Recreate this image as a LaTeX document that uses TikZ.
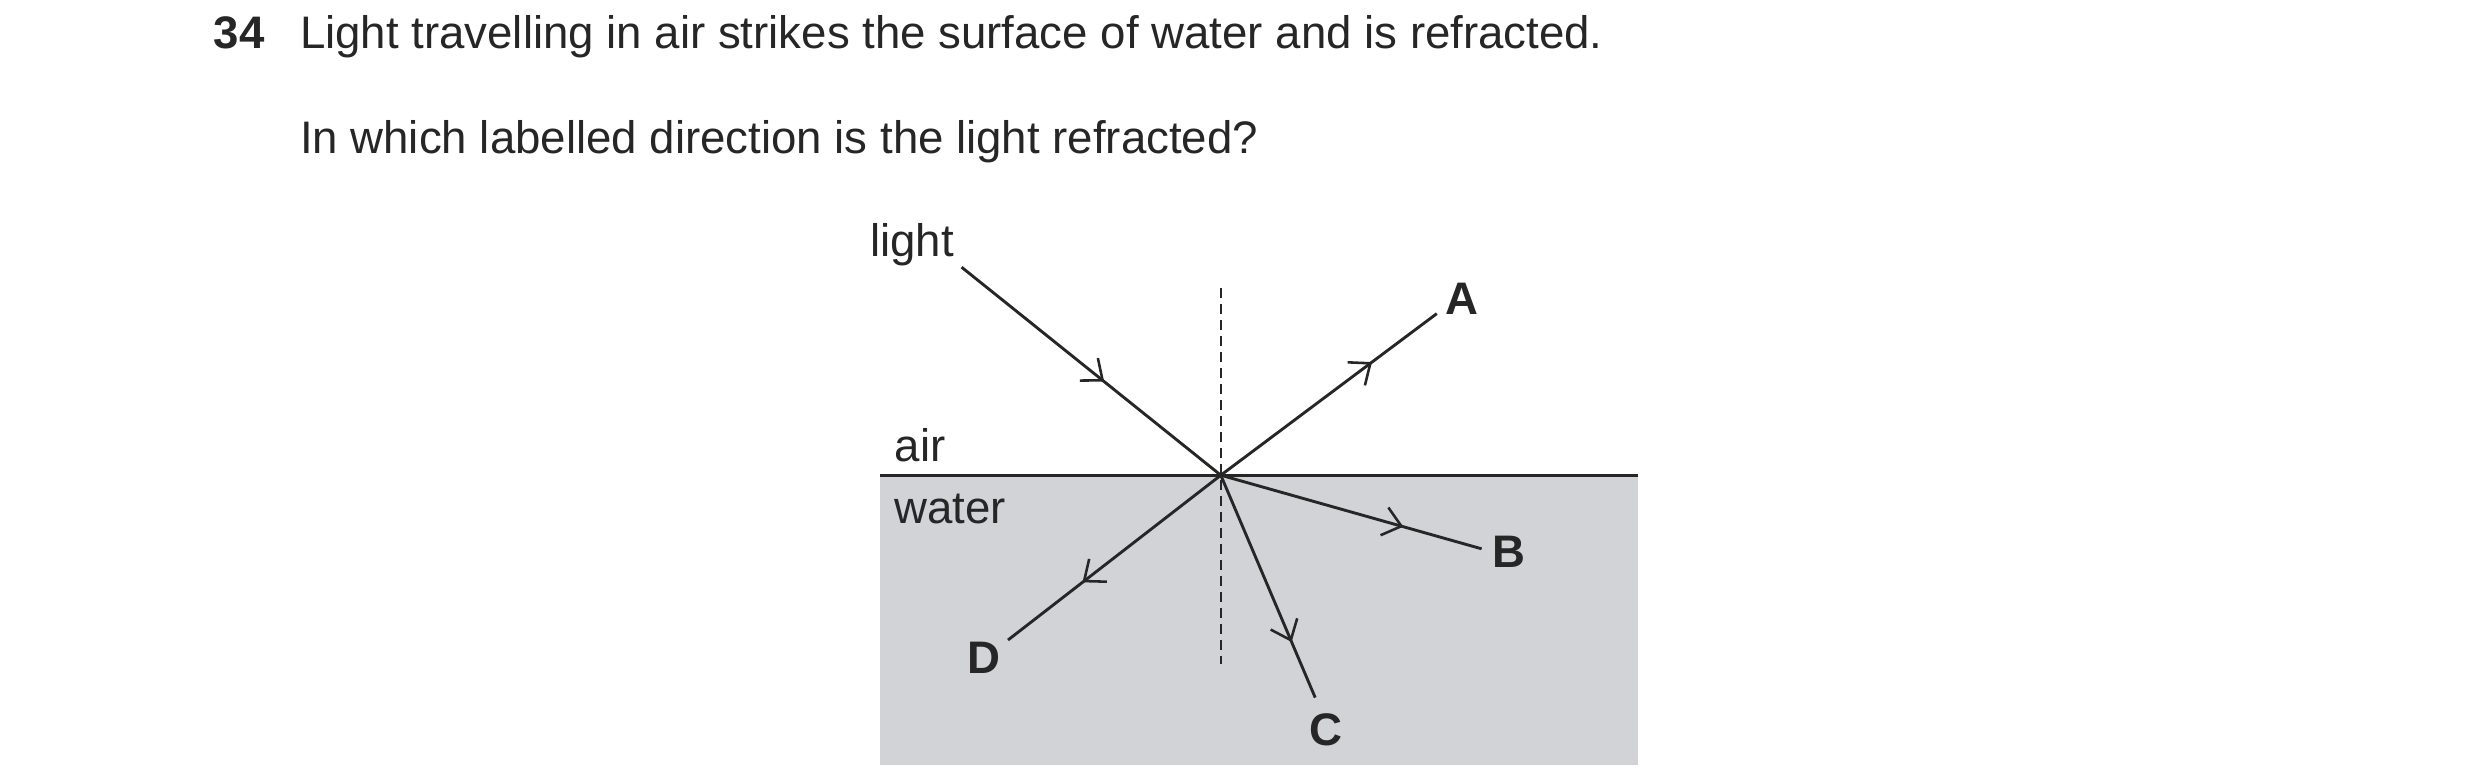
\documentclass[tikz,border=0pt]{standalone}
\usepackage{fontspec}
\setmainfont{Liberation Sans}
\usetikzlibrary{decorations.markings,arrows.meta}
\definecolor{wat}{RGB}{210,211,214}
\begin{document}
\begin{tikzpicture}[x=1pt,y=-1pt,
  ray/.style={line width=1.8pt,color=black!85,postaction={decorate},decoration={markings,mark=at position #1 with {\arrow{Straight Barb[length=11pt,width=18pt,line width=1.6pt]}}}},
  lbl/.style={font=\fontsize{28.5}{32}\selectfont,text=black!85},
  ans/.style={font=\fontsize{28.5}{32}\selectfont\bfseries,text=black!85}]
\useasboundingbox (0,0) rectangle (1550,485);
\fill[wat] (550,297) rectangle (1024,478);
\node[ans,anchor=base west] (n) at (130,30) {34};
\node[lbl,anchor=base west] (q1) at (184,30) {Light travelling in air strikes the surface of water and is refracted.};
\node[lbl,anchor=base west] (q2) at (184,96) {In which labelled direction is the light refracted?};
\coordinate (O) at (763,297);
\coordinate (L) at (601,167);
\coordinate (Ae) at (898,196);
\coordinate (Be) at (926,343);
\coordinate (Ce) at (822,436);
\coordinate (De) at (630,400);
\coordinate (N1) at (763,180);
\coordinate (N2) at (763,415);
\coordinate (S1) at (550,297);
\coordinate (S2) at (1024,297);
\draw[dashed,line width=1pt,dash pattern=on 6pt off 4pt,black!85] (N1) -- (N2);
\draw[line width=1.8pt,black!85] (S1) -- (S2);
\draw[ray=0.55] (L) -- (O);
\draw[ray=0.7] (O) -- (Ae);
\draw[ray=0.7] (O) -- (Be);
\draw[ray=0.75] (O) -- (Ce);
\draw[ray=0.65] (O) -- (De);
\node[lbl] (light) at (570,153) {light};
\node[lbl] (air) at (575,278) {air};
\node[lbl] (water) at (594,318) {water};
\node[ans] (A) at (914,187) {A};
\node[ans] (B) at (943,345) {B};
\node[ans] (C) at (829,456) {C};
\node[ans] (D) at (615,411) {D};
\end{tikzpicture}
\end{document}
